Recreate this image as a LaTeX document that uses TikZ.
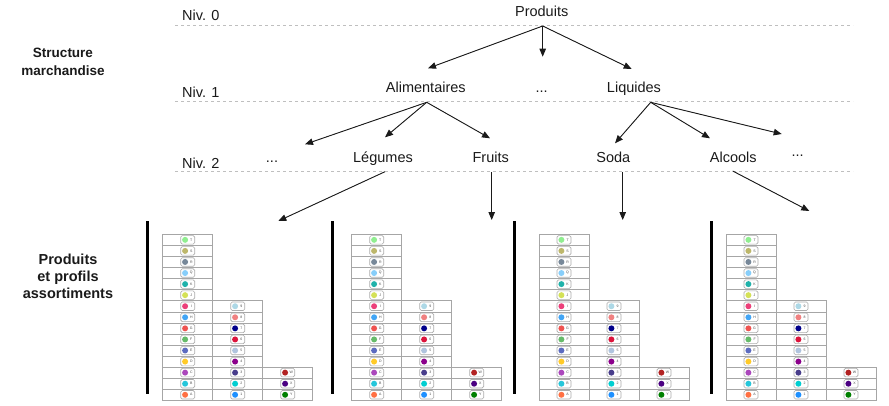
\documentclass[tikz,border=0pt]{standalone}
\usepackage{fontspec}
\setmainfont{Liberation Sans}
\usetikzlibrary{arrows.meta}
% column 1 colours (top to bottom)
\definecolor{ca1}{HTML}{90EE90}\definecolor{ca2}{HTML}{BDB76B}\definecolor{ca3}{HTML}{778899}
\definecolor{ca4}{HTML}{87CEFA}\definecolor{ca5}{HTML}{20B2AA}\definecolor{ca6}{HTML}{D4E157}
\definecolor{ca7}{HTML}{EC407A}\definecolor{ca8}{HTML}{42A5F5}\definecolor{ca9}{HTML}{EF5350}
\definecolor{ca10}{HTML}{66BB6A}\definecolor{ca11}{HTML}{5C6BC0}\definecolor{ca12}{HTML}{FFCA28}
\definecolor{ca13}{HTML}{AB47BC}\definecolor{ca14}{HTML}{26C6DA}\definecolor{ca15}{HTML}{FF7043}
% column 2
\definecolor{cb7}{HTML}{ADD8E6}\definecolor{cb8}{HTML}{F08080}\definecolor{cb9}{HTML}{00008B}
\definecolor{cb10}{HTML}{DC143C}\definecolor{cb11}{HTML}{B0C4DE}\definecolor{cb12}{HTML}{8B008B}
\definecolor{cb13}{HTML}{483D8B}\definecolor{cb14}{HTML}{00CED1}\definecolor{cb15}{HTML}{1E90FF}
% column 3
\definecolor{cc13}{HTML}{B22222}\definecolor{cc14}{HTML}{4B0082}\definecolor{cc15}{HTML}{008000}
\definecolor{txt}{HTML}{1A1A1A}
\tikzset{
  lbl/.style={font=\fontsize{14.5}{17}\selectfont, anchor=base, inner sep=0pt, text=txt},
  nivlbl/.style={lbl, anchor=base west},
  sidelbl/.style={font=\bfseries\fontsize{13.5}{17.7}\selectfont, align=center, inner sep=0pt, text=txt},
  sidelbltwo/.style={font=\bfseries\fontsize{14.5}{17}\selectfont, align=center, inner sep=0pt, text=txt},
  levline/.style={draw=gray!50, dash pattern=on 3pt off 3pt, line width=0.6pt},
  arr/.style={-{Triangle[length=8pt,width=6.5pt]}, line width=0.9pt, draw=txt, fill=txt},
  bar/.style={line width=3pt, draw=black},
  cellbox/.style={draw=gray!70, line width=0.5pt},
  chip/.style={draw=gray!65, fill=white, rounded corners=1.5pt, line width=0.6pt, minimum width=14pt, minimum height=8.5pt, inner sep=0pt},
  dotmark/.style={circle, inner sep=0pt, minimum size=6pt},
  tinytxt/.style={font=\fontsize{3.5}{3.5}\selectfont, inner sep=0pt, text=gray!60!black},
}
\begin{document}
\begin{tikzpicture}[x=1pt,y=-1pt]
\useasboundingbox (0,0) rectangle (889,405);

% level lines
\draw[levline] (175,25) -- (853,25);
\draw[levline] (175,101.7) -- (853,101.7);
\draw[levline] (175,171) -- (853,171);

% level labels
\node[nivlbl] (niv0) at (182,20.7) {Niv. 0};
\node[nivlbl] (niv1) at (182,97.3) {Niv. 1};
\node[nivlbl] (niv2) at (182,168.3) {Niv. 2};

% side labels
\node[sidelbl] (struct) at (63,62) {Structure\\marchandise};
\node[sidelbltwo] (prodprof) at (68,276.5) {Produits\\et profils\\assortiments};

% tree labels
\node[lbl] (produits) at (541.7,16) {Produits};
\node[lbl] (alim) at (425.8,92) {Alimentaires};
\node[lbl] (dotsA) at (541.7,92) {...};
\node[lbl] (liquides) at (634,92) {Liquides};
\node[lbl] (dotsL) at (272,162.5) {...};
\node[lbl] (legumes) at (383,162.5) {Légumes};
\node[lbl] (fruits) at (490.7,162.5) {Fruits};
\node[lbl] (soda) at (613.3,162.5) {Soda};
\node[lbl] (alcools) at (733.3,162.5) {Alcools};
\node[lbl] (dotsR) at (797.7,156) {...};

% connector end points
\coordinate (pOut) at (542.7,26);
\coordinate (pL) at (428,68.3);
\coordinate (pM) at (542.7,56.7);
\coordinate (pR) at (631.7,69);
\coordinate (aOut) at (426.7,102.3);
\coordinate (aL) at (305,144.3);
\coordinate (aM) at (385,137.3);
\coordinate (aR) at (490,138.3);
\coordinate (lOut) at (650.7,102.3);
\coordinate (lL) at (615,143.3);
\coordinate (lM) at (710,138.3);
\coordinate (lR) at (781.7,134);
\coordinate (legOut) at (385,171.7);
\coordinate (legT) at (278.3,221);
\coordinate (frOut) at (491.7,172);
\coordinate (frT) at (491.7,220);
\coordinate (soOut) at (622.7,172);
\coordinate (soT) at (622.7,220);
\coordinate (alOut) at (732.7,171);
\coordinate (alT) at (809.3,211);

\draw[arr] (pOut) -- (pL);
\draw[arr] (pOut) -- (pM);
\draw[arr] (pOut) -- (pR);
\draw[arr] (aOut) -- (aL);
\draw[arr] (aOut) -- (aM);
\draw[arr] (aOut) -- (aR);
\draw[arr] (lOut) -- (lL);
\draw[arr] (lOut) -- (lM);
\draw[arr] (lOut) -- (lR);
\draw[arr] (legOut) -- (legT);
\draw[arr] (frOut) -- (frT);
\draw[arr] (soOut) -- (soT);
\draw[arr] (alOut) -- (alT);

% assortment tables
\foreach \tx/\bx [count=\t] in {162.7/147.3, 351.7/332, 539/514.3, 726/711.7} {
  \coordinate (bar\t top) at (\bx,221);
  \coordinate (bar\t bot) at (\bx,394);
  \draw[bar] (bar\t top) -- (bar\t bot);
  % column 1
  \foreach \lab [count=\r] in {T,S,R,Q,K,J,I,H,G,F,E,D,C,B,A} {
    \draw[cellbox] (\tx,{234.3+(\r-1)*11.067}) rectangle ++(50,11.067);
    \node[chip] (t\t-a-\r) at ({\tx+25},{234.3+(\r-0.5)*11.067}) {};
    \node[dotmark, fill=ca\r] (t\t-ad-\r) at ([xshift=-2.6pt]t\t-a-\r.center) {};
    \node[tinytxt] (t\t-al-\r) at ([xshift=3.6pt]t\t-a-\r.center) {\lab};
  }
  % column 2
  \foreach \lab [count=\rr] in {9,8,7,6,5,4,3,2,1} {
    \pgfmathtruncatemacro{\r}{\rr+6}
    \draw[cellbox] ({\tx+50},{234.3+(\r-1)*11.067}) rectangle ++(50,11.067);
    \node[chip] (t\t-b-\r) at ({\tx+75},{234.3+(\r-0.5)*11.067}) {};
    \node[dotmark, fill=cb\r] (t\t-bd-\r) at ([xshift=-2.6pt]t\t-b-\r.center) {};
    \node[tinytxt] (t\t-bl-\r) at ([xshift=3.6pt]t\t-b-\r.center) {\lab};
  }
  % column 3
  \foreach \lab [count=\rr] in {W,X,Y} {
    \pgfmathtruncatemacro{\r}{\rr+12}
    \draw[cellbox] ({\tx+100},{234.3+(\r-1)*11.067}) rectangle ++(50,11.067);
    \node[chip] (t\t-c-\r) at ({\tx+125},{234.3+(\r-0.5)*11.067}) {};
    \node[dotmark, fill=cc\r] (t\t-cd-\r) at ([xshift=-2.6pt]t\t-c-\r.center) {};
    \node[tinytxt] (t\t-cl-\r) at ([xshift=3.6pt]t\t-c-\r.center) {\lab};
  }
}
\end{tikzpicture}
\end{document}
